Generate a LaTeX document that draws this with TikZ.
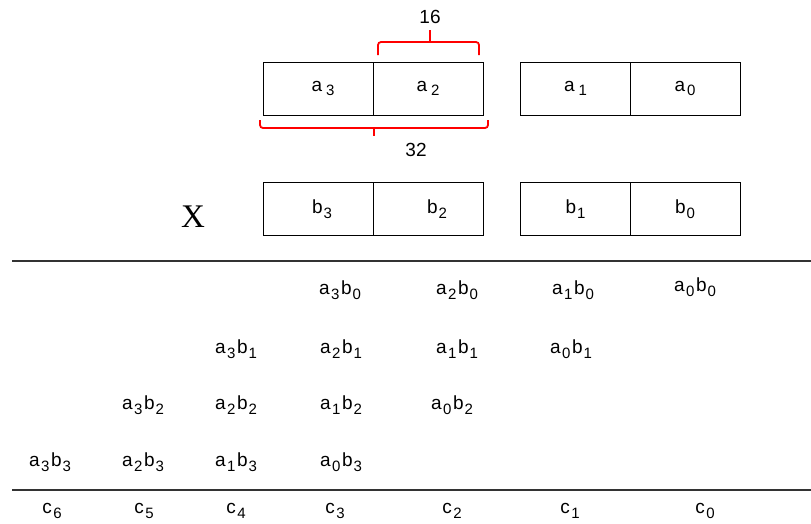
\documentclass[tikz,border=0pt]{standalone}
\usepackage{fontspec}
\setmainfont{Liberation Sans}
\newfontfamily\serifx{Liberation Serif}
\usetikzlibrary{positioning}

\newcommand{\sbx}[1]{\raisebox{-0.45ex}{\fontsize{15}{15}\selectfont #1}}
\newcommand{\pp}[2]{a\kern1.5pt\sbx{#1}\kern1.5pt b\kern1pt\sbx{#2}}
\newcommand{\cw}[1]{c\kern1.5pt\sbx{#1}}

\begin{document}
\begin{tikzpicture}[x=1pt, y=-1pt,
  cell/.style={draw, line width=1pt, minimum width=110pt, minimum height=53pt,
               inner sep=0pt, font=\fontsize{19}{19}\selectfont},
  prod/.style={inner sep=0pt, font=\fontsize{19}{19}\selectfont},
  brc/.style={draw=red, line width=1.8pt, rounded corners=3pt},
  rule/.style={line width=1.8pt, black!80},
  lab/.style={inner sep=0pt, font=\fontsize{19}{19}\selectfont}]
\useasboundingbox (0,0) rectangle (811,523);

% ---- the two operands ----------------------------------------------------
\node[cell] (A3) at (318,88.5) {\hspace{10pt}a\kern4pt\sbx{3}};
\node[cell] (A2) at (428,88.5) {a\kern4pt\sbx{2}};
\node[cell] (A1) at (575.5,88.5) {a\kern4pt\sbx{1}};
\node[cell] (A0) at (685,88.5) {a\kern2pt\sbx{0}};

\node[cell] (B3) at (318,209) {\hspace{8pt}b\kern1pt\sbx{3}};
\node[cell] (B2) at (428,209) {\hspace{18pt}b\kern1pt\sbx{2}};
\node[cell] (B1) at (575.5,209) {\raisebox{4pt}{b\kern1pt\sbx{1}}\hspace{6pt}};
\node[cell] (B0) at (685,209) {\raisebox{4pt}{b\kern1pt\sbx{0}}};
\node[inner sep=0pt, font=\serifx\fontsize{33}{33}\selectfont] (X) at (193,217) {X};

% ---- widths ----------------------------------------------------------------
\draw[brc] (378,55) |- (479,42) -- (479,55);
\draw[brc] (430,42) -- (430,30);
\node[lab] (W16) at (430,17) {16};
\draw[brc] (260,120) |- (488,128) -- (488,120);
\draw[brc] (374,128) -- (374,136);
\node[lab] (W32) at (416,150) {32};

\draw[rule] (12,261) -- (811,261);

% ---- partial products ------------------------------------------------------
\node[prod] (P30) at (340,290) {\pp{3}{0}};
\node[prod] (P20) at (457,290) {\pp{2}{0}};
\node[prod] (P10) at (573,290) {\pp{1}{0}};
\node[prod] (P00) at (695,287) {\pp{0}{0}};

\node[prod] (P31) at (236,349) {\pp{3}{1}};
\node[prod] (P21) at (341,349) {\pp{2}{1}};
\node[prod] (P11) at (457,349) {\pp{1}{1}};
\node[prod] (P01) at (571,349) {\pp{0}{1}};

\node[prod] (P32) at (143,405) {\pp{3}{2}};
\node[prod] (P22) at (236,405) {\pp{2}{2}};
\node[prod] (P12) at (341,405) {\pp{1}{2}};
\node[prod] (P02) at (452,405) {\pp{0}{2}};

\node[prod] (P33) at (50,462) {\pp{3}{3}};
\node[prod] (P23) at (143,462) {\pp{2}{3}};
\node[prod] (P13) at (236,462) {\pp{1}{3}};
\node[prod] (P03) at (341,462) {\pp{0}{3}};

\draw[rule] (12,490) -- (811,490);

% ---- result words ----------------------------------------------------------
\node[prod] (C6) at (52,511) {\cw{6}};
\node[prod] (C5) at (144,511) {\cw{5}};
\node[prod] (C4) at (236,511) {\cw{4}};
\node[prod] (C3) at (335,511) {\cw{3}};
\node[prod] (C2) at (452,511) {\cw{2}};
\node[prod] (C1) at (570,511) {\cw{1}};
\node[prod] (C0) at (705,511) {\cw{0}};

\end{tikzpicture}
\end{document}
